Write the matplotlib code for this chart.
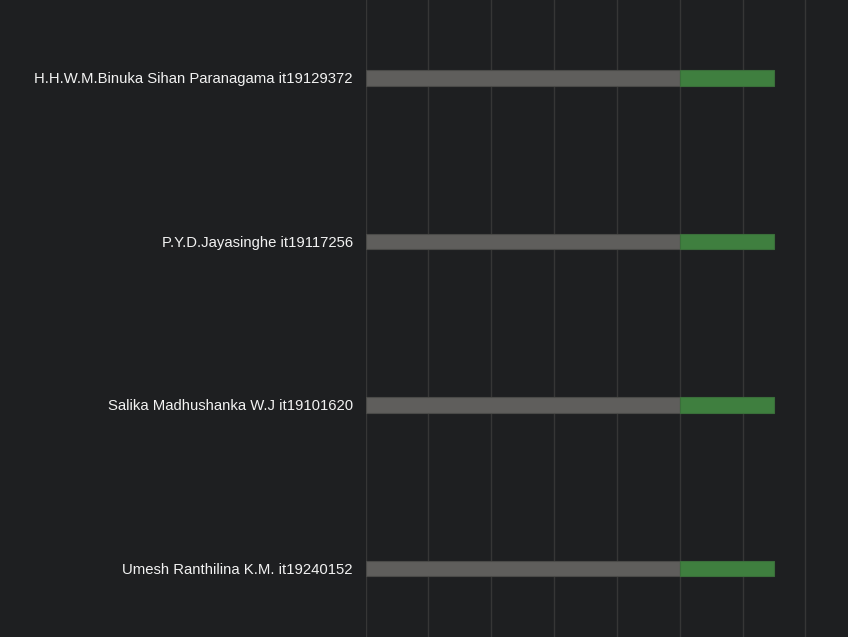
import numpy as np
import matplotlib.pyplot as plt

# data
names = ['H.H.W.M.Binuka Sihan Paranagama it19129372',
         'P.Y.D.Jayasinghe it19117256',
         'Salika Madhushanka W.J it19101620',
         'Umesh Ranthilina K.M. it19240152']
done = [5, 5, 5, 5]
extra = [1.5, 1.5, 1.5, 1.5]

bg = '#1e1f21'
plt.rcParams['font.family'] = ['Liberation Sans', 'DejaVu Sans']

fig = plt.figure(figsize=(8.48, 6.37), dpi=100, facecolor=bg)
ax = fig.add_axes([365.5 / 848, 0, (848 - 365.5) / 848, 1])
ax.set_facecolor(bg)

y = np.arange(len(names))
ax.barh(y, done, height=0.092, color='#5f5e5c', edgecolor='#4a4a48', linewidth=0.8, zorder=3)
ax.barh(y, extra, left=done, height=0.092, color='#3f7f3f', edgecolor='#3a6e3a', linewidth=0.8, zorder=3)

ax.set_xlim(0, (848 - 365.5) / 62.85)
ax.set_ylim(637 / 163.5 - 78 / 163.5, -78 / 163.5)
ax.set_xticks(np.arange(0, 8))
ax.tick_params(axis='x', length=0, labelbottom=False)
ax.set_yticks(y)
ax.set_yticklabels(names, color='#f2f2f2', fontsize=10.75)
ax.tick_params(axis='y', length=0, pad=9)
ax.grid(axis='x', color='#363636', linewidth=1, zorder=0)
for s in ax.spines.values():
    s.set_visible(False)

fig.savefig('out.png', dpi=100, facecolor=bg)
